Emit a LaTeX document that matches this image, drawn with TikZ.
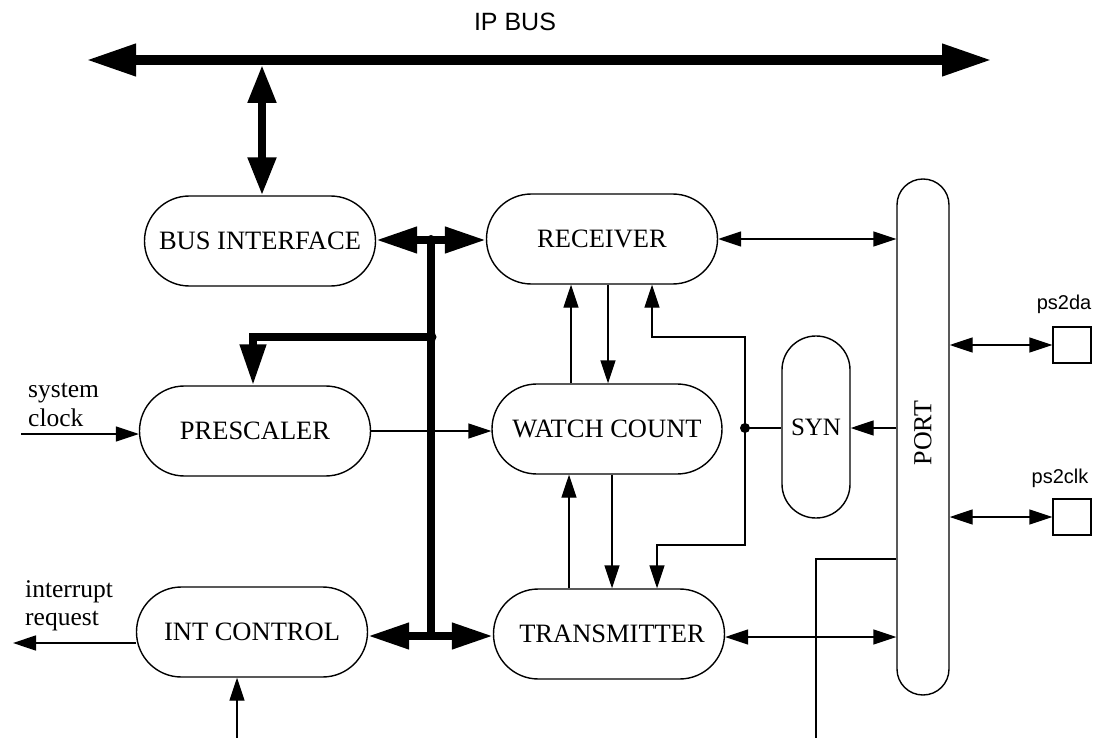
\documentclass[tikz,border=0pt]{standalone}
\usepackage{fontspec}
\setmainfont{Liberation Serif}
\newfontfamily\sansf{Liberation Sans}
\usetikzlibrary{arrows.meta}
\begin{document}
\begin{tikzpicture}[x=1pt,y=-1pt,
  blk/.style={draw, line width=1.4pt, minimum width=231pt, minimum height=90pt, rounded corners=44.9pt, font=\fontsize{26.5}{30}\selectfont, inner sep=0pt},
  thinln/.style={line width=1.4pt},
  arr/.style={thinln, -{Triangle[length=23pt,width=15pt]}},
  darr/.style={thinln, {Triangle[length=23pt,width=15pt]}-{Triangle[length=23pt,width=15pt]}},
  busln/.style={line width=7.5pt},
  bdarr/.style={busln, {Triangle[length=41pt,width=25pt]}-{Triangle[length=41pt,width=25pt]}},
  lbl/.style={font=\fontsize{25.5}{28}\selectfont, inner sep=0pt},
  slbl/.style={font=\sansf\fontsize{20}{24}\selectfont, inner sep=0pt},
]
\useasboundingbox (0,0) rectangle (1095,738);

% blocks
\node[blk] (bi) at (260,241) {BUS INTERFACE};
\node[blk] (rx) at (602,239) {RECEIVER\hspace{18pt}};
\node[blk] (ps) at (255,431) {PRESCALER};
\node[blk, minimum width=230pt] (wc) at (607,429) {WATCH COUNT};
\node[blk] (ic) at (252,632) {INT CONTROL\hspace{6pt}};
\node[blk] (tx) at (609,634) {\hspace{6pt}TRANSMITTER};
\node[draw, line width=1.4pt, minimum width=52pt, minimum height=516pt, rounded corners=25.9pt, inner sep=0pt] (port) at (923,437) {};
\node[rotate=90, font=\fontsize{26}{30}\selectfont, inner sep=0pt] (portlbl) at (923,433) {PORT};
\node[draw, line width=1.4pt, minimum width=68pt, minimum height=182pt, rounded corners=33.9pt, inner sep=0pt, font=\fontsize{25}{30}\selectfont] (syn) at (816,427) {SYN};
\node[draw, line width=1.4pt, minimum width=38pt, minimum height=36pt, inner sep=0pt] (da) at (1072,345) {};
\node[draw, line width=1.4pt, minimum width=38pt, minimum height=36pt, inner sep=0pt] (clk) at (1072,517) {};

% labels
\node[font=\sansf\fontsize{25}{30}\selectfont, inner sep=0pt] (iplbl) at (515,22) {IP BUS};
\node[slbl] (dalbl) at (1064,304) {ps2da};
\node[slbl] (clklbl) at (1060,478) {ps2clk};
\node[lbl, anchor=base west] (sys1) at (28,397) {system};
\node[lbl, anchor=base west] (sys2) at (28,426) {clock};
\node[lbl, anchor=base west] (int1) at (25,597) {interrupt};
\node[lbl, anchor=base west] (int2) at (25,625) {request};

% IP bus
\coordinate (ipL) at (86,60);
\coordinate (ipR) at (992,60);
\draw[line width=10pt, {Triangle[length=50pt,width=30pt]}-{Triangle[length=50pt,width=30pt]}] (ipL) -- (ipR);
\coordinate (bt) at (262,65);
\draw[line width=8pt, {Triangle[length=38pt,width=27pt]}-{Triangle[length=38pt,width=27pt]}] (bt) -- (bt |- bi.north);

% internal thick bus
\coordinate (j1) at (431,240);
\coordinate (j2) at (431,337);
\coordinate (j3) at (431,636);
\coordinate (pk) at (253,337);
\draw[busln] (j1) -- (j3);
\draw[bdarr] (bi.east |- j1) -- (rx.west |- j1);
\draw[bdarr] (ic.east |- j3) -- (tx.west |- j3);
\draw[busln, -{Triangle[length=41pt,width=25pt]}] (j2) -- (pk) -- (pk |- ps.north);
\fill (j1) circle (5);
\fill (j2) circle (5.5);

% prescaler
\draw[arr] (ps.east) -- (ps.east -| wc.west);
\coordinate (sc) at (21,434);
\draw[arr] (sc) -- (sc -| ps.west);

% int control
\coordinate (ir) at (13,643);
\draw[arr] (ic.west |- ir) -- (ir);
\coordinate (ib) at (237,738);
\draw[arr] (ib) -- (ib |- ic.south);

% receiver / watch count / transmitter
\coordinate (u1) at (571,0);
\coordinate (d1) at (608,0);
\coordinate (u2) at (569,0);
\coordinate (d2) at (612,0);
\draw[arr] (u1 |- wc.north) -- (u1 |- rx.south);
\draw[arr] (d1 |- rx.south) -- (d1 |- wc.north);
\draw[arr] (u2 |- tx.north) -- (u2 |- wc.south);
\draw[arr] (d2 |- wc.south) -- (d2 |- tx.north);

% feedback from SYN
\coordinate (f1) at (652,337);
\coordinate (f2) at (745,337);
\coordinate (f3) at (745,545);
\coordinate (f4) at (657,545);
\draw[darr] (f1 |- rx.south) -- (f1) -- (f2) -- (f3) -- (f4) -- (f4 |- tx.north);
\coordinate (dt) at (745,428);
\fill (dt) circle (5);
\draw[thinln] (dt) -- (dt -| syn.west);
\draw[arr] (port.west |- dt) -- (dt -| syn.east);

% port connections
\draw[darr] (rx.east) -- (rx.east -| port.west);
\coordinate (tp) at (0,637);
\draw[darr] (tx.east |- tp) -- (port.west |- tp);
\coordinate (pl) at (816,559);
\coordinate (pb) at (816,738);
\draw[thinln] (port.west |- pl) -- (pl) -- (pb);
\draw[darr] (port.east |- da.west) -- (da.west);
\draw[darr] (port.east |- clk.west) -- (clk.west);
\end{tikzpicture}
\end{document}
